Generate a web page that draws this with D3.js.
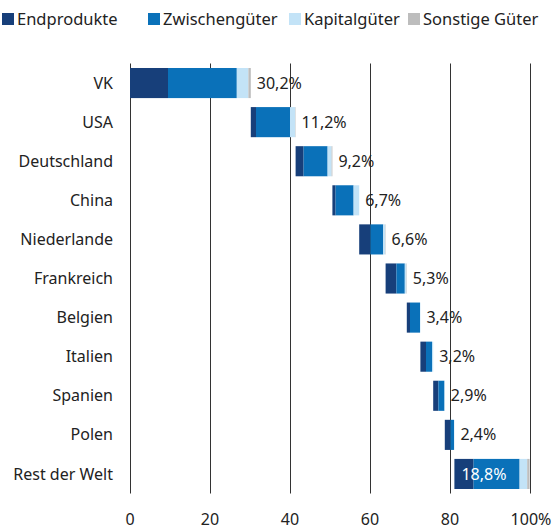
<!DOCTYPE html>
<html>
<head>
<meta charset="utf-8">
<script src="https://cdn.jsdelivr.net/npm/d3@7"></script>
<style>
  body { margin: 0; background: #fff; }
  svg { display: block; font-family: "Noto Sans", sans-serif; }
</style>
</head>
<body>
<div id="chart"></div>
<script>
// Länder und Anteile (in %)
const countries = ["VK", "USA", "Deutschland", "China", "Niederlande", "Frankreich", "Belgien", "Italien", "Spanien", "Polen", "Rest der Welt"];
const endprodukte    = [9.5, 1.3, 2.0, 0.8, 2.8, 2.7, 0.8, 1.4, 1.3, 1.4, 4.8];
const zwischengueter = [17.2, 8.5, 6.0, 4.5, 3.2, 2.1, 2.5, 1.5, 1.5, 0.9, 11.5];
const kapitalgueter  = [2.9, 1.3, 1.0, 1.4, 0.5, 0.4, 0.1, 0.3, 0.1, 0.1, 1.9];
const sonstige       = [0.6, 0.1, 0.2, 0.0, 0.1, 0.1, 0.0, 0.0, 0.0, 0.0, 0.6];
const totals = ["30,2%", "11,2%", "9,2%", "6,7%", "6,6%", "5,3%", "3,4%", "3,2%", "2,9%", "2,4%", "18,8%"];
const seriesNames = ["Endprodukte", "Zwischengüter", "Kapitalgüter", "Sonstige Güter"];
const xTicks = [0, 20, 40, 60, 80, 100];

const colors = ["#173f7a", "#0a71b9", "#c3e3f7", "#bdbdbd"];

const width = 559, height = 529;
const marginLeft = 130, marginRight = 29, marginTop = 63.5, marginBottom = 35.5;

const svg = d3.select("#chart").append("svg")
    .attr("width", width)
    .attr("height", height);

const x = d3.scaleLinear()
    .domain([0, 100])
    .range([marginLeft, width - marginRight]);

const y = d3.scaleBand()
    .domain(countries)
    .range([marginTop, height - marginBottom])
    .paddingInner(0.23)
    .paddingOuter(0.115);

// Gitterlinien
svg.append("g")
  .selectAll("line")
  .data(xTicks)
  .join("line")
    .attr("x1", d => Math.round(x(d)) + 0.5)
    .attr("x2", d => Math.round(x(d)) + 0.5)
    .attr("y1", marginTop)
    .attr("y2", height - marginBottom)
    .attr("stroke", "#333")
    .attr("stroke-width", 1);

// Wasserfall-Segmente berechnen
const series = [endprodukte, zwischengueter, kapitalgueter, sonstige];
const segs = [];
let start = 0;
countries.forEach((c, i) => {
  let pos = start;
  series.forEach((s, k) => {
    segs.push({country: c, k: k, x0: pos, x1: pos + s[i]});
    pos += s[i];
  });
  start = pos;
});

svg.append("g")
  .selectAll("rect")
  .data(segs.filter(d => d.x1 > d.x0))
  .join("rect")
    .attr("x", d => x(d.x0))
    .attr("width", d => x(d.x1) - x(d.x0))
    .attr("y", d => y(d.country))
    .attr("height", y.bandwidth())
    .attr("fill", d => colors[d.k]);

// Endwerte je Land
const ends = [];
let acc = 0;
countries.forEach((c, i) => {
  const s = acc;
  acc += series.reduce((a, arr) => a + arr[i], 0);
  ends.push({country: c, start: s, end: acc, label: totals[i]});
});

svg.append("g")
    .attr("font-size", 16)
  .selectAll("text")
  .data(ends)
  .join("text")
    .attr("x", (d, i) => i === ends.length - 1 ? x(d.start) + 7 : x(d.end) + 6)
    .attr("y", d => y(d.country) + y.bandwidth() / 2)
    .attr("dy", "0.35em")
    .attr("fill", (d, i) => i === ends.length - 1 ? "#fff" : "#222")
    .text(d => d.label);

// Y-Achse (Länder)
svg.append("g")
    .attr("font-size", 16)
    .attr("text-anchor", "end")
  .selectAll("text")
  .data(countries)
  .join("text")
    .attr("x", marginLeft - 17)
    .attr("y", d => y(d) + y.bandwidth() / 2)
    .attr("dy", "0.35em")
    .attr("fill", "#222")
    .text(d => d);

// X-Achse
svg.append("g")
    .attr("font-size", 16)
    .attr("text-anchor", "middle")
  .selectAll("text")
  .data(xTicks)
  .join("text")
    .attr("x", d => x(d) + (d === 100 ? 1 : 0))
    .attr("y", 519)
    .attr("dy", "0.35em")
    .attr("fill", "#222")
    .text(d => d === 100 ? "100%" : d);

// Legende
const legendX = [2, 148, 289, 408];
const legend = svg.append("g")
  .selectAll("g")
  .data(seriesNames)
  .join("g")
    .attr("transform", (d, i) => `translate(${legendX[i]},0)`);

legend.append("rect")
    .attr("x", 0)
    .attr("y", 13)
    .attr("width", 12)
    .attr("height", 12)
    .attr("fill", (d, i) => colors[i]);

legend.append("text")
    .attr("x", 15)
    .attr("y", 19.5)
    .attr("dy", "0.35em")
    .attr("font-size", 16.5)
    .attr("fill", "#222")
    .text(d => d);
</script>
</body>
</html>
